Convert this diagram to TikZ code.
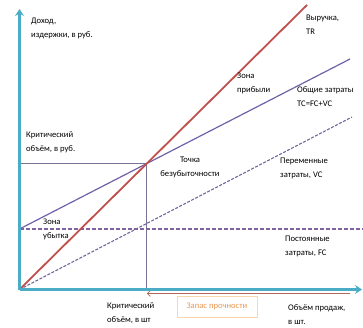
\documentclass[tikz,border=0pt]{standalone}
\usepackage{fontspec}
\setmainfont{Carlito}
\usetikzlibrary{arrows.meta, positioning}
\definecolor{axisteal}{RGB}{75,172,198}
\definecolor{trred}{RGB}{192,80,77}
\definecolor{tcpurple}{RGB}{112,96,168}
\definecolor{fcpurple}{RGB}{128,100,162}
\definecolor{guidegray}{RGB}{120,115,150}
\definecolor{margbrown}{RGB}{176,104,88}
\definecolor{margorange}{RGB}{232,150,80}
\definecolor{margframe}{RGB}{250,215,170}

\begin{document}
\begin{tikzpicture}[
    x=1pt, y=-1pt,
    lbl/.style={
      align=left,
      anchor=west,
      inner sep=0pt,
      font=\fontsize{8.6}{14}\selectfont
    },
    axisline/.style={
      draw=axisteal,
      line width=2.6pt,
      -{Stealth[length=7pt, width=9pt, inset=2.5pt]}
    },
    guide/.style={draw=guidegray, line width=0.7pt},
    margin/.style={
      draw=margframe,
      line width=0.6pt,
      text=margorange,
      minimum width=80pt,
      minimum height=21pt,
      font=\fontsize{8.6}{14}\selectfont
    }
  ]
    \useasboundingbox (0,0) rectangle (363,328);
    % key points
    \coordinate (O) at (19.5,289.5);
    \coordinate (ytop) at (19.5,9);
    \coordinate (xend) at (362,289.5);
    \coordinate (trend) at (307,5);
    \coordinate (tcstart) at (19.5,229);
    \coordinate (tcend) at (350,59);
    \coordinate (vcend) at (352,117);
    \coordinate (fcend) at (363,229);
    \coordinate (BE) at (intersection of O--trend and tcstart--tcend);
    \coordinate (ycrit) at (O |- BE);
    \coordinate (xcrit) at (BE |- O);
    \coordinate (margstart) at (350,293.5);
    \coordinate (margend) at (BE |- margstart);

    % critical lines
    \draw[guide] (ycrit) -- (BE);
    \draw[guide] (BE) -- (xcrit);

    % costs and revenue
    \draw[fcpurple, line width=1.6pt, dash pattern=on 4pt off 2pt] (tcstart) -- (fcend);
    \draw[tcpurple!85!gray, line width=1.1pt, dash pattern=on 3pt off 1.5pt] (O) -- (vcend);
    \draw[tcpurple, line width=1.2pt] (tcstart) -- (tcend);
    \draw[trred, line width=1.8pt] (O) -- (trend);

    % safety margin
    \draw[margbrown, line width=0.7pt, -{Straight Barb[length=3pt, width=6pt]}] (margstart) -- (margend);
    \node[margin] (marg) at (217,306.5) {Запас прочности};

    % axes
    \draw[axisline] (O) -- (ytop);
    \draw[axisline] (O) -- (xend);

    \node[lbl] (yname) at (31,28) {Доход,\\издержки, в руб.};
    \node[lbl] (xname) at (288,315) {Объём продаж,\\в шт.};
    \node[lbl] (trlbl) at (306,25) {Выручка,\\TR};
    \node[lbl] (profit) at (237,83) {Зона\\прибыли};
    \node[lbl] (tclbl) at (297,96.5) {Общие затраты\\TC=FC+VC};
    \node[lbl] (critrub) at (26,142) {Критический\\объём, в руб.};
    \node[lbl, align=center, anchor=center] (belbl) at (190,167) {Точка\\безубыточности};
    \node[lbl] (vclbl) at (280,168) {Переменные\\затраты, VC};
    \node[lbl] (loss) at (43,229) {Зона\\убытка};
    \node[lbl] (fclbl) at (285,246) {Постоянные\\затраты, FC};
    \node[lbl] (critpcs) at (107,313.5) {Критический\\объём, в шт};
  \end{tikzpicture}
\end{document}
